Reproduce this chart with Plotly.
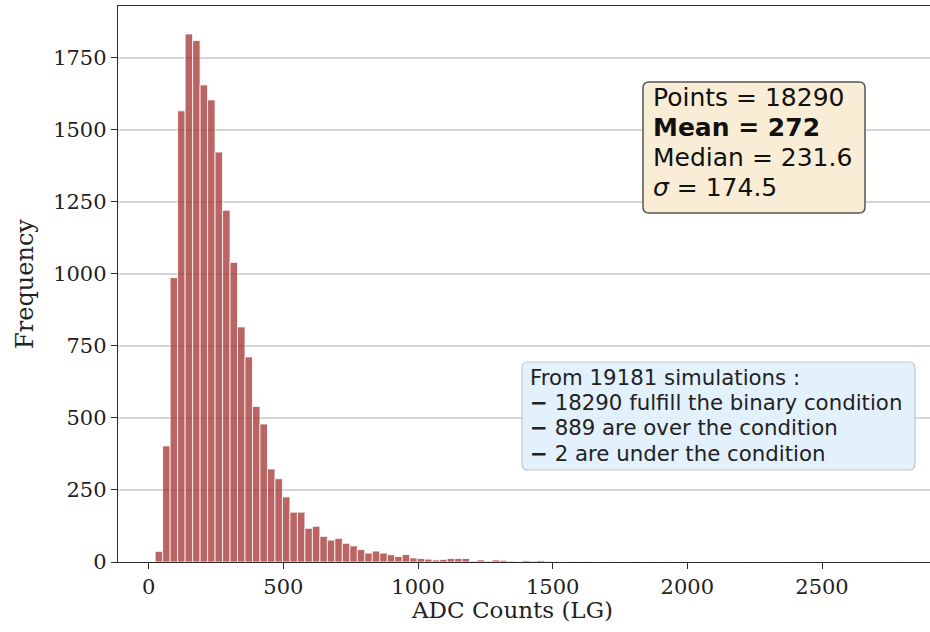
import plotly.graph_objects as go

# Histogram of ADC counts: 100 equal-width bins
bin_start = 24.0
bin_width = 27.8
counts = [
    37, 403, 987, 1566, 1833, 1810, 1656, 1604, 1423, 1221,
    1040, 816, 712, 540, 479, 323, 289, 226, 173, 173,
    117, 124, 89, 76, 82, 65, 56, 43, 31, 38,
    31, 25, 19, 26, 14, 12, 10, 7, 9, 12,
    12, 12, 3, 7, 3, 7, 6, 3, 2, 5,
    3, 5, 3, 2, 1, 2, 1, 2, 1, 0,
    1, 1, 0, 1, 1, 0, 1, 0, 1, 0,
    1, 0, 0, 1, 0, 0, 0, 0, 1, 0,
    0, 0, 0, 0, 0, 1, 0, 0, 0, 0,
    0, 0, 0, 0, 0, 0, 0, 0, 0, 1,
]
x_ticks = [0, 500, 1000, 1500, 2000, 2500]
y_ticks = [0, 250, 500, 750, 1000, 1250, 1500, 1750]

stats_lines = [
    "Points = 18290",
    "<b>Mean = 272</b>",
    "Median = 231.6",
    "<i>σ</i> = 174.5",
]
sim_lines = [
    "From 19181 simulations :",
    "<b>−</b> 18290 fulfill the binary condition",
    "<b>−</b> 889 are over the condition",
    "<b>−</b> 2 are under the condition",
]

centers = [bin_start + (i + 0.5) * bin_width for i in range(len(counts))]

fig = go.Figure(
    go.Bar(
        x=centers,
        y=counts,
        width=bin_width,
        marker=dict(color="rgba(160,40,40,0.72)",
                    line=dict(color="white", width=0.8)),
        hoverinfo="x+y",
    )
)

SERIF = "DejaVu Serif"
SANS = "DejaVu Sans"
AX = "#2a2a2a"

fig.update_layout(
    width=930,
    height=632,
    margin=dict(l=118, r=0, t=6, b=70),
    paper_bgcolor="white",
    plot_bgcolor="white",
    showlegend=False,
    xaxis=dict(
        range=[-114, 2901],
        tickvals=x_ticks,
        ticks="outside",
        ticklen=6,
        tickwidth=1.2,
        tickcolor=AX,
        showline=True,
        linecolor=AX,
        linewidth=1.4,
        mirror=True,
        showgrid=False,
        zeroline=False,
        tickfont=dict(family=SERIF, size=21, color="#222"),
    ),
    yaxis=dict(
        range=[0, 1930],
        tickvals=y_ticks,
        ticks="outside",
        ticklen=6,
        tickwidth=1.2,
        tickcolor=AX,
        showline=True,
        linecolor=AX,
        linewidth=1.4,
        showgrid=True,
        gridcolor="#d4d4d4",
        gridwidth=1.5,
        zeroline=False,
        tickfont=dict(family=SERIF, size=21, color="#222"),
        title=dict(text="Frequency", standoff=12,
                   font=dict(family=SERIF, size=24, color="#222")),
    ),
)

# plot area in pixels, used to place the text boxes
PL, PR, PT, PB = 118.0, 930.0, 6.0, 562.0


def px(x):
    return (x - PL) / (PR - PL)


def py(y):
    return (PB - y) / (PB - PT)


# x-axis title
fig.add_annotation(x=px(512), y=py(610), xref="paper", yref="paper",
                   text="ADC Counts (LG)", showarrow=False,
                   xanchor="center", yanchor="middle",
                   font=dict(family=SERIF, size=23, color="#222"))


def rounded_box(x0, y0, x1, y1, r, fill, line_color, line_width):
    rx = r / (PR - PL)
    ry = r / (PB - PT)
    a, b, c, d = px(x0), px(x1), py(y1), py(y0)  # left, right, bottom, top
    path = (
        f"M {a + rx},{c} L {b - rx},{c} Q {b},{c} {b},{c + ry} "
        f"L {b},{d - ry} Q {b},{d} {b - rx},{d} "
        f"L {a + rx},{d} Q {a},{d} {a},{d - ry} "
        f"L {a},{c + ry} Q {a},{c} {a + rx},{c} Z"
    )
    fig.add_shape(type="path", path=path, xref="paper", yref="paper",
                  fillcolor=fill, line=dict(color=line_color, width=line_width),
                  layer="above")


rounded_box(643, 82, 865, 213, 6, "rgba(250,236,212,0.95)", "#555555", 1.5)
rounded_box(522, 362, 915, 470, 6, "rgba(224,240,252,0.95)", "#c4c4c4", 1.2)

for i, txt in enumerate(stats_lines):
    fig.add_annotation(x=px(651), y=py(98 + 30 * i), xref="paper", yref="paper",
                       text=txt, showarrow=False, xanchor="left", yanchor="middle",
                       font=dict(family=SANS, size=25, color="#111"))

for i, txt in enumerate(sim_lines):
    fig.add_annotation(x=px(528), y=py(377 + 25.5 * i), xref="paper", yref="paper",
                       text=txt, showarrow=False, xanchor="left", yanchor="middle",
                       font=dict(family=SANS, size=21.3, color="#222"))

fig.write_html("out.html")
